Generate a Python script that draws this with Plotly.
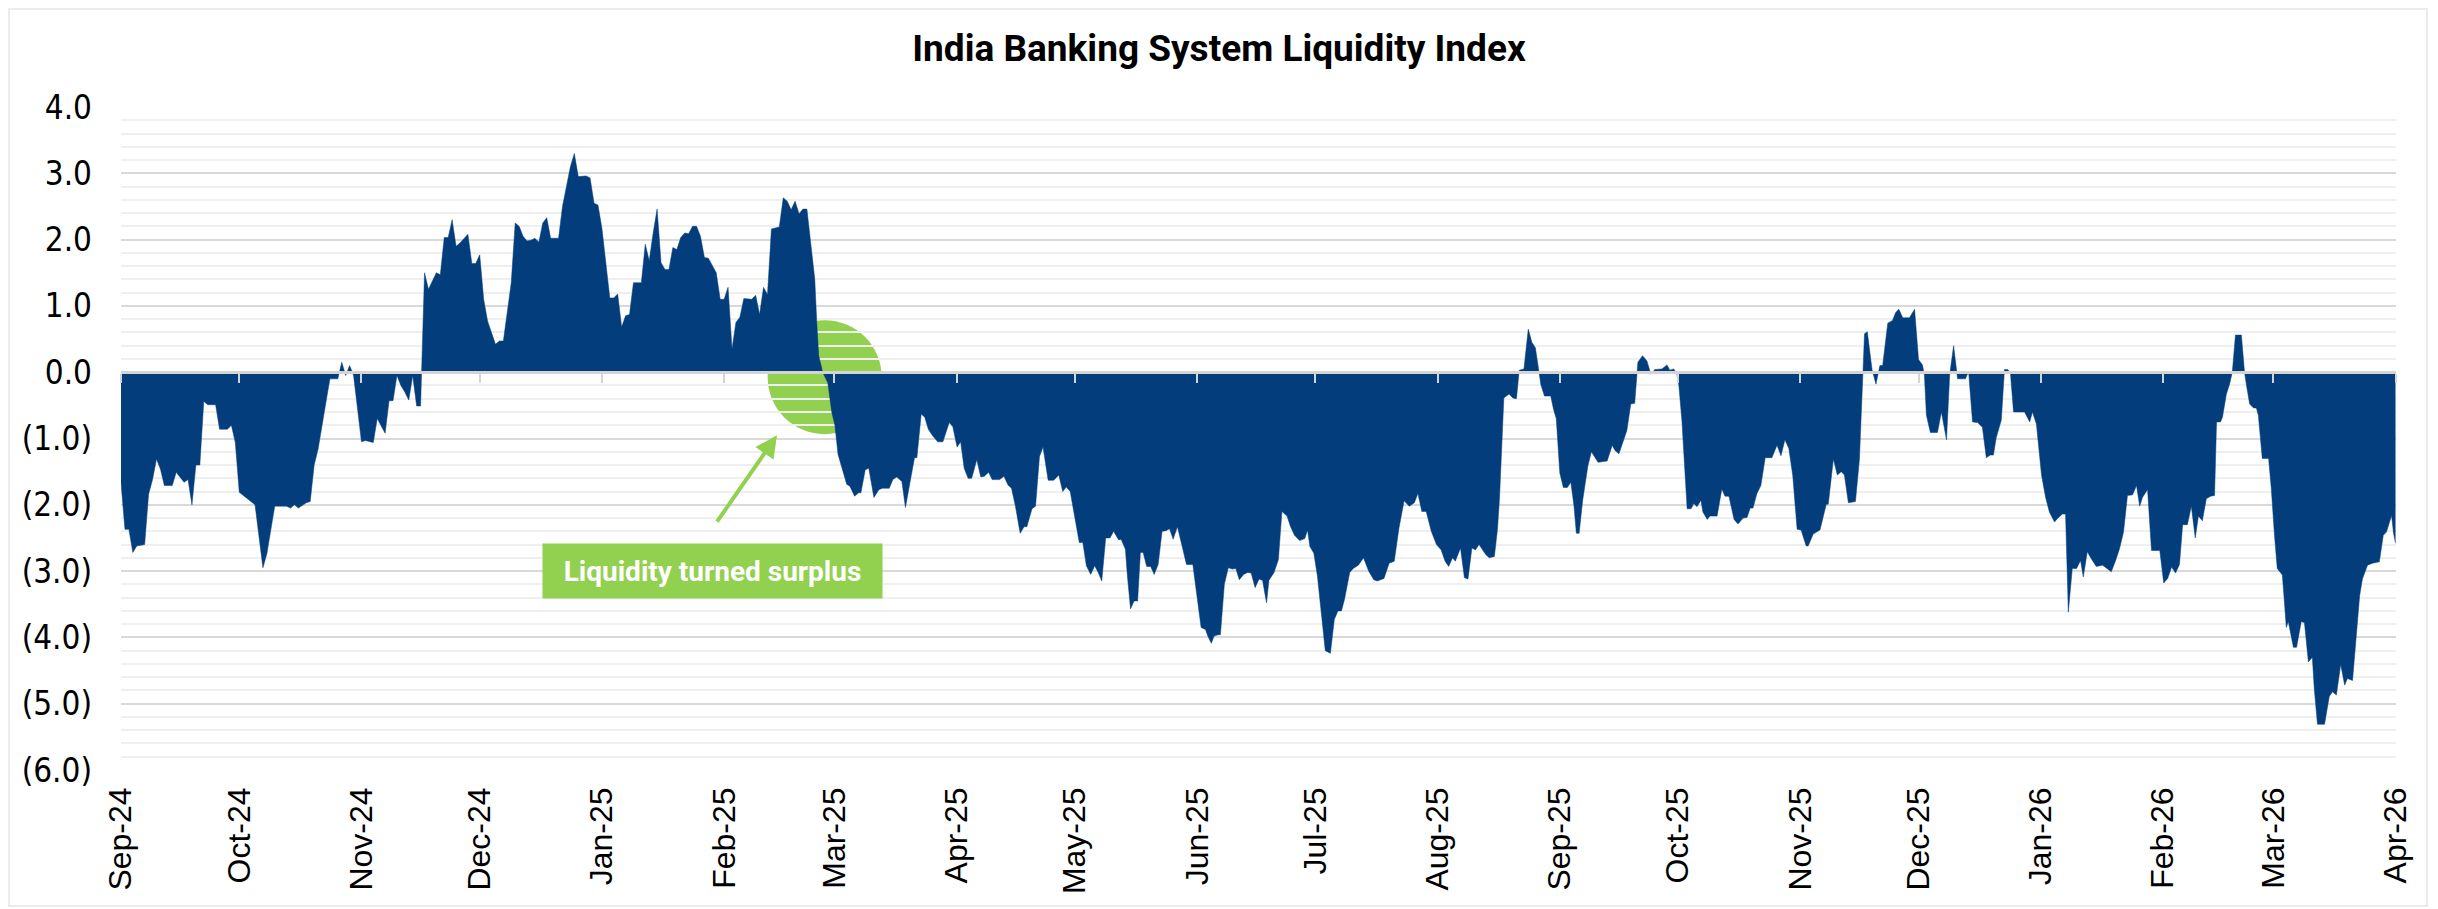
import pandas as pd
import plotly.graph_objects as go

# Data: days counted from the first date, and the liquidity index values
start_date = "2024-09-01"

day_offset = [
    0, 1, 2, 3, 4, 6, 7, 8, 9, 10, 11, 13, 14, 16, 17, 18, 19, 20, 21, 22, 24, 25, 27, 28, 29, 30,
    34, 36, 37, 39, 42, 43, 44, 45, 47, 48, 49, 50, 52, 53, 55, 56, 57, 58, 59, 60, 61, 62, 64,
    65, 66, 67, 68, 69, 70, 71, 72, 73, 74, 75, 76, 77, 78, 79, 80, 81, 82, 83, 84, 85, 86, 88,
    89, 90, 91, 92, 93, 95, 96, 97, 99, 100, 101, 102, 103, 104, 105, 106, 107, 108, 109, 111,
    112, 114, 115, 116, 118, 119, 120, 121, 122, 124, 125, 126, 127, 128, 129, 130, 132, 133,
    134, 135, 136, 137, 138, 139, 140, 141, 142, 143, 144, 145, 146, 147, 148, 149, 151, 152,
    153, 154, 155, 156, 157, 158, 159, 160, 161, 162, 163, 164, 165, 167, 168, 169, 170, 171,
    172, 173, 174, 175, 176, 176.5, 177, 178, 179.3, 180.3, 181.1, 181.9, 182.8, 184.1, 184.9,
    186.1, 187.1, 187.7, 188.8, 189.7, 191.0, 192.3, 193.2, 194.9, 195.8, 196.8, 198.1, 199.0,
    200.4, 201.3, 201.9, 203.0, 203.9, 204.8, 205.9, 207.2, 208.5, 210.1, 211.0, 212.1, 213.0,
    213.9, 214.9, 215.8, 217.1, 218.1, 219.0, 220.1, 221.0, 222.9, 224.0, 225.0, 225.9, 226.9,
    228.1, 229.1, 229.8, 231.1, 232.0, 233.0, 233.9, 235.2, 236.6, 237.9, 238.9, 239.8, 240.8,
    242.1, 243.1, 244.0, 244.9, 246.0, 247.0, 247.9, 248.8, 249.8, 250.9, 251.8, 253.1, 253.7,
    254.8, 255.3, 256.1, 257.0, 257.9, 258.6, 259.3, 260.2, 261.2, 262.1, 263.1, 264.1, 265.1,
    266.0, 266.9, 268.0, 269.3, 270.3, 271.9, 272.9, 274.0, 275.1, 275.7, 276.6, 277.3, 278.3,
    278.9, 279.9, 280.9, 281.9, 282.8, 283.7, 284.8, 285.8, 286.7, 287.7, 288.7, 289.6, 290.6,
    291.2, 292.5, 293.6, 294.5, 295.8, 296.7, 297.7, 299.0, 300.3, 301.0, 301.6, 302.6, 303.5,
    304.4, 305.5, 306.8, 307.8, 308.7, 309.6, 310.4, 311.7, 312.6, 313.9, 315.2, 316.5, 317.8,
    318.7, 320.4, 321.7, 323.0, 324.2, 325.5, 326.8, 328.1, 329.0, 330.0, 331.1, 332.4, 333.7,
    334.9, 335.9, 336.8, 337.8, 338.5, 339.8, 340.8, 341.7, 342.7, 343.6, 344.5, 345.6, 346.2,
    347.1, 348.4, 349.2, 349.7, 350.8, 352.1, 353.1, 354.0, 354.7, 355.9, 357.0, 357.9, 358.8,
    359.6, 360.2, 361.1, 362.7, 363.4, 364.1, 365.0, 365.9, 366.9, 367.8, 368.6, 369.2, 369.9,
    370.8, 372.1, 373.0, 374.7, 377.0, 378.3, 379.0, 380.0, 381.0, 382.0, 383.0, 384.0, 384.8,
    386.0, 387.1, 388.1, 389.1, 390.9, 392.2, 392.9, 393.9, 394.7, 395.2, 396.0, 396.5, 397.3,
    398.3, 399.0, 399.8, 400.8, 401.3, 402.4, 403.1, 404.9, 406.1, 406.9, 407.9, 409.2, 410.2,
    411.5, 412.5, 413.3, 414.0, 415.0, 416.0, 417.1, 418.8, 420.1, 421.1, 422.1, 423.1, 424.1,
    425.2, 426.2, 427.5, 428.0, 429.3, 431.0, 432.6, 433.1, 434.4, 435.4, 436.4, 437.2, 438.2,
    440.0, 441.0, 441.8, 442.3, 443.0, 444.2, 445.2, 446.2, 446.9, 448.2, 449.4, 450.2, 451.0,
    452.0, 453.7, 455.0, 456.0, 457.0, 457.5, 458.0, 459.0, 460.8, 461.8, 463.1, 463.9, 464.9,
    465.9, 467.9, 468.7, 469.7, 471.0, 472.2, 473.2, 474.2, 475.0, 475.7, 477.0, 477.8, 478.6,
    479.3, 480.1, 482.9, 484.2, 484.9, 485.9, 487.2, 488.2, 489.2, 490.5, 491.2, 492.5, 493.3,
    494.0, 495.0, 496.1, 497.1, 497.8, 498.8, 500.1, 501.1, 502.7, 503.7, 504.9, 506.0, 507.0,
    508.0, 509.0, 510.3, 511.3, 512.1, 512.8, 514.1, 515.1, 517.2, 518.2, 519.2, 520.2, 521.2,
    522.2, 523.0, 524.2, 525.2, 526.2, 527.0, 528.0, 529.0, 530.1, 531.1, 531.6, 532.6, 533.1,
    534.1, 534.9, 535.6, 536.4, 537.9, 538.7, 539.2, 540.0, 541.0, 541.7, 542.2, 543.2, 544.8,
    545.5, 546.3, 547.0, 548.3, 549.3, 549.8, 551.1, 551.9, 553.1, 553.9, 554.9, 555.9, 556.4,
    557.2, 559.0, 560.2, 561.0, 562.0, 563.1, 564.1, 564.8, 566.1, 567.1, 567.9, 568.6, 569.9,
    571.2, 572.9, 573.9, 574.7, 576.0, 576.5, 577.0,
]

liquidity = [
    -1.66, -2.37, -2.37, -2.72, -2.62, -2.6, -1.84, -1.62, -1.31, -1.46, -1.71, -1.71, -1.51,
    -1.66, -1.62, -2.0, -1.4, -1.4, -0.44, -0.49, -0.49, -0.86, -0.86, -0.8, -1.06, -1.81,
    -2.0, -2.95, -2.74, -2.02, -2.02, -2.05, -2.0, -2.05, -1.97, -1.95, -1.4, -1.16, -0.45,
    -0.1, -0.1, 0.15, -0.05, 0.1, -0.05, -0.6, -1.05, -1.03, -1.06, -0.7, -0.82, -0.92, -0.43,
    -0.43, -0.05, -0.2, -0.3, -0.42, -0.05, -0.51, -0.51, 1.5, 1.25, 1.38, 1.5, 1.47, 2.03,
    2.03, 2.3, 1.9, 1.95, 2.08, 1.64, 1.64, 1.77, 1.1, 0.77, 0.42, 0.47, 0.47, 1.35, 2.25, 2.2,
    2.05, 1.98, 1.99, 2.02, 1.96, 2.25, 2.33, 2.02, 2.02, 2.5, 3.1, 3.3, 2.95, 2.96, 2.93,
    2.55, 2.52, 2.17, 1.12, 1.12, 1.18, 0.68, 0.85, 0.87, 1.35, 1.35, 1.93, 1.68, 2.1, 2.46,
    1.65, 1.55, 1.55, 1.88, 1.85, 2.03, 2.1, 2.09, 2.2, 2.2, 2.05, 1.73, 1.72, 1.5, 1.1, 1.1,
    1.28, 0.35, 0.75, 0.83, 1.11, 1.1, 1.1, 1.16, 0.87, 1.28, 1.17, 2.16, 2.19, 2.63, 2.58,
    2.45, 2.58, 2.39, 2.46, 2.46, 1.9, 1.4, 0.75, 0.25, 0.0, -0.16, -0.6, -0.8, -1.24, -1.42,
    -1.69, -1.72, -1.87, -1.82, -1.82, -1.47, -1.45, -1.89, -1.77, -1.75, -1.75, -1.62, -1.58,
    -1.65, -2.04, -1.58, -1.29, -1.29, -0.63, -0.68, -0.86, -0.96, -1.05, -1.05, -0.76, -0.82,
    -1.13, -1.05, -1.45, -1.6, -1.6, -1.32, -1.58, -1.57, -1.51, -1.62, -1.62, -1.57, -1.7,
    -1.75, -2.02, -2.43, -2.33, -2.33, -2.06, -2.02, -1.27, -1.13, -1.63, -1.63, -1.55, -1.8,
    -1.73, -1.8, -2.22, -2.57, -2.57, -2.92, -3.05, -2.92, -3.02, -3.15, -2.5, -2.5, -2.4,
    -2.53, -2.52, -2.67, -3.07, -3.57, -3.45, -3.45, -2.72, -2.72, -2.93, -2.93, -3.05, -2.9,
    -2.4, -2.39, -2.36, -2.52, -2.33, -2.65, -2.9, -2.9, -3.32, -3.85, -3.88, -3.98, -4.09,
    -3.98, -3.96, -3.96, -3.2, -2.95, -2.97, -2.96, -3.13, -3.05, -3.02, -3.03, -3.25, -3.12,
    -3.14, -3.48, -3.14, -3.02, -2.83, -2.1, -2.17, -2.33, -2.46, -2.54, -2.51, -2.38, -2.63,
    -2.73, -3.07, -3.57, -4.2, -4.24, -3.73, -3.6, -3.6, -3.42, -3.02, -2.96, -2.91, -2.8,
    -3.0, -3.13, -3.15, -3.11, -2.88, -2.85, -2.35, -1.94, -2.02, -1.97, -1.83, -2.1, -2.1,
    -2.4, -2.6, -2.68, -2.85, -2.93, -2.8, -2.85, -2.65, -3.1, -3.12, -2.65, -2.68, -2.6,
    -2.7, -2.75, -2.8, -2.78, -2.36, -1.9, -0.39, -0.33, -0.39, -0.4, 0.03, 0.05, 0.65, 0.45,
    0.37, 0.0, -0.19, -0.36, -0.36, -0.56, -0.7, -1.52, -1.74, -1.74, -1.66, -2.02, -2.43,
    -2.43, -1.93, -1.42, -1.2, -1.36, -1.34, -1.1, -1.18, -1.23, -1.06, -0.88, -0.48, -0.47,
    0.15, 0.25, 0.17, -0.03, 0.04, 0.05, 0.11, 0.03, 0.05, -0.03, -0.2, -0.75, -1.26, -2.06,
    -2.06, -1.98, -2.03, -1.93, -2.11, -2.22, -2.17, -2.17, -1.76, -1.87, -1.87, -2.22, -2.29,
    -2.2, -2.19, -2.05, -2.05, -1.83, -1.71, -1.29, -1.29, -1.1, -1.26, -1.02, -1.15, -1.56,
    -2.37, -2.38, -2.62, -2.62, -2.44, -2.38, -1.99, -1.99, -1.31, -1.55, -1.5, -1.55, -1.97,
    -1.95, -1.32, 0.0, 0.58, 0.61, 0.04, -0.18, 0.1, 0.1, 0.74, 0.78, 0.9, 0.95, 0.82, 0.82,
    0.95, 0.19, 0.11, -0.05, -0.65, -0.91, -0.91, -0.6, -1.02, -0.04, 0.4, -0.1, -0.1, 0.01,
    -0.75, -0.76, -0.83, -1.29, -1.25, -1.25, -0.99, -0.72, 0.04, 0.04, 0.0, -0.6, -0.6,
    -0.75, -0.6, -0.78, -1.55, -1.88, -2.11, -2.26, -2.21, -2.14, -2.14, -3.62, -2.96, -2.96,
    -2.84, -3.09, -2.71, -2.84, -2.93, -2.91, -2.96, -3.01, -2.84, -2.66, -2.41, -1.86, -1.85,
    -1.71, -2.02, -1.89, -1.77, -2.69, -2.69, -3.18, -3.11, -2.94, -3.03, -2.9, -2.3, -2.3,
    -2.02, -2.5, -2.17, -2.24, -1.91, -1.87, -1.86, -0.75, -0.75, -0.68, -0.33, -0.18, 0.0,
    0.56, 0.56, 0.0, -0.2, -0.48, -0.54, -0.54, -0.65, -1.3, -1.3, -1.76, -2.46, -2.96, -3.06,
    -3.85, -3.76, -4.15, -4.15, -3.76, -3.78, -4.37, -4.3, -4.78, -5.31, -5.31, -4.89, -4.82,
    -4.87, -4.41, -4.72, -4.62, -4.65, -3.87, -3.37, -3.12, -2.91, -2.88, -2.86, -2.46, -2.41,
    -2.16, -2.43, -2.58,
]

month_ticks = [
    "2024-09-01", "2024-10-01", "2024-11-01", "2024-12-01", "2025-01-01", "2025-02-01",
    "2025-03-01", "2025-04-01", "2025-05-01", "2025-06-01", "2025-07-01", "2025-08-01",
    "2025-09-01", "2025-10-01", "2025-11-01", "2025-12-01", "2026-01-01", "2026-02-01",
    "2026-03-01", "2026-04-01",
]
month_labels = [
    "Sep-24", "Oct-24", "Nov-24", "Dec-24", "Jan-25", "Feb-25", "Mar-25", "Apr-25", "May-25",
    "Jun-25", "Jul-25", "Aug-25", "Sep-25", "Oct-25", "Nov-25", "Dec-25", "Jan-26", "Feb-26",
    "Mar-26", "Apr-26",
]
y_ticks = [4, 3, 2, 1, 0, -1, -2, -3, -4, -5, -6]
y_labels = ["4.0", "3.0", "2.0", "1.0", "0.0", "(1.0)", "(2.0)", "(3.0)", "(4.0)", "(5.0)", "(6.0)"]

NAVY = "#033d7c"
GREEN = "#92d050"
X_RANGE = ["2024-09-01", "2026-04-01 03:00"]

# the page puts the figure 8px in from the top-left corner
L, T, PW, PH = 113, 99, 2275, 663
W, H = 2438, 909

dates = pd.Timestamp(start_date) + pd.to_timedelta(day_offset, unit="D")

fig = go.Figure()

fig.add_trace(go.Scatter(
    x=dates, y=liquidity,
    mode="lines", fill="tozeroy",
    line=dict(color=NAVY, width=0.5),
    fillcolor=NAVY,
    showlegend=False,
))

# invisible helper so the zero-line axis (with the small month ticks) gets drawn
fig.add_trace(go.Scatter(
    x=[dates[0], dates[-1]], y=[0, 0], xaxis="x2",
    mode="lines", line=dict(width=0), hoverinfo="skip", showlegend=False,
))

fig.update_layout(
    width=W, height=H,
    margin=dict(l=L, r=W - L - PW, t=T, b=H - T - PH),
    paper_bgcolor="white", plot_bgcolor="white",
    title=dict(
        text="<b>India Banking System Liquidity Index</b>",
        x=(1219 - 8) / W, xanchor="center", y=1 - 40 / H, yanchor="middle",
        font=dict(family="Roboto", size=37, color="#000000"),
    ),
    xaxis=dict(
        type="date", range=X_RANGE,
        tickvals=month_ticks, ticktext=month_labels, tickangle=-90,
        ticks="", showgrid=False, showline=False, zeroline=False,
        ticklabelstandoff=10,
        tickfont=dict(family="Liberation Sans, Arial, sans-serif", size=32, color="#000000"),
    ),
    xaxis2=dict(
        type="date", range=X_RANGE, overlaying="x", anchor="free", position=0.6,
        tickvals=month_ticks, showticklabels=False,
        ticks="outside", ticklen=9, tickwidth=2, tickcolor="#d4d4d4",
        showline=True, linecolor="#d4d4d4", linewidth=3,
        showgrid=False, zeroline=False,
    ),
    yaxis=dict(
        range=[-6, 4], tickvals=y_ticks, ticktext=y_labels,
        showgrid=True, gridcolor="#d9d9d9", gridwidth=2,
        minor=dict(dtick=0.2, showgrid=True, gridcolor="#efefef", gridwidth=2),
        zeroline=False, showline=False, ticks="",
        ticklabelstandoff=28,
        tickfont=dict(family="Liberation Sans Narrow, DejaVu Sans Condensed, sans-serif",
                      size=33, color="#000000"),
    ),
)

# green "turn" marker behind the gridlines
fig.add_shape(
    type="circle", layer="below",
    xref="x", yref="y", xsizemode="pixel", ysizemode="pixel",
    xanchor="2025-02-26 12:00", yanchor=-0.075,
    x0=-57, x1=57, y0=-57, y1=57,
    fillcolor=GREEN, line=dict(width=0),
)

# arrow pointing to the marker
fig.add_annotation(
    x="2025-02-14 10:00", y=-0.95, xref="x", yref="y",
    text="", showarrow=True, ax=-61, ay=88,
    arrowhead=2, arrowsize=1.1, arrowwidth=4, arrowcolor=GREEN, standoff=0,
)

# label box
fig.add_annotation(
    x="2025-01-29", y=-3.0, xref="x", yref="y",
    text="<b>Liquidity turned surplus</b>", showarrow=False,
    bgcolor=GREEN, width=339, height=54, borderpad=0,
    align="center", valign="middle",
    font=dict(family="Roboto", size=28, color="white"),
)

# faint chart border
fig.add_shape(
    type="rect", xref="paper", yref="paper", layer="above",
    x0=(1 - L) / PW, x1=(2419 - L) / PW,
    y0=(T + PH - 898) / PH, y1=(T + PH - 1) / PH,
    line=dict(color="#ececec", width=2), fillcolor="rgba(0,0,0,0)",
)

fig.write_html("out.html")
